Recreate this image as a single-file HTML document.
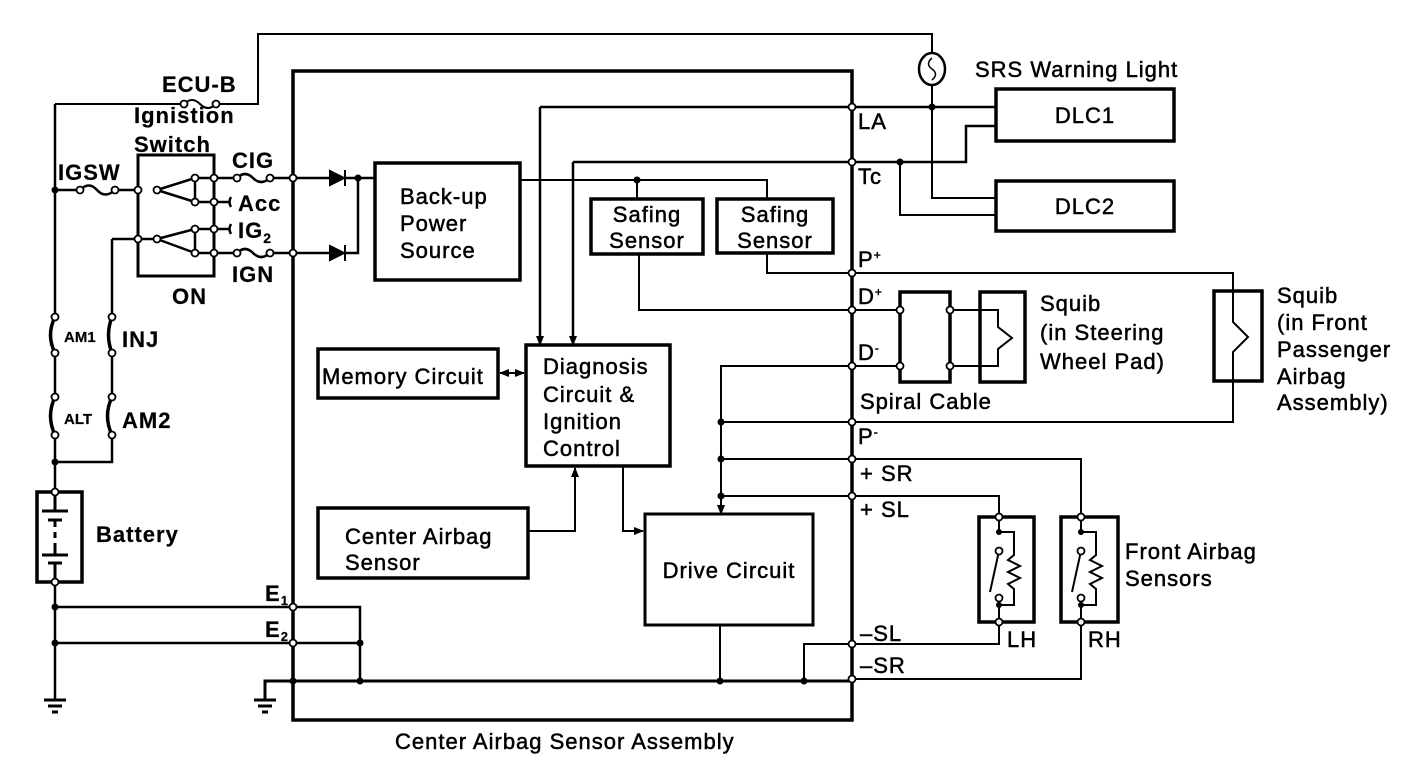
<!DOCTYPE html>
<html><head><meta charset="utf-8"><style>
html,body{margin:0;padding:0;background:#fff}
svg{display:block}
text{font-family:"Liberation Sans",sans-serif;font-size:22px;letter-spacing:1px;fill:#000;stroke:#000;stroke-width:0.5}
.b{font-weight:bold;stroke-width:0.2}
.s{font-size:15px;letter-spacing:0}
</style></head><body>
<svg width="1408" height="766" viewBox="0 0 1408 766" xmlns="http://www.w3.org/2000/svg">
<defs>
<marker id="ar" markerWidth="10" markerHeight="10" refX="9" refY="5" orient="auto" markerUnits="userSpaceOnUse"><path d="M0,1 L10,5 L0,9 Z" fill="#000"/></marker>
</defs>
<g fill="none" stroke="#000" stroke-width="2">
<path d="M293,71 H852 V720 H293 Z" stroke-width="3.5"/>
<path d="M55,104 H184 M216,104 H258 V34 H932 V53"/>
<path d="M184,104 q8,-8 16,0 t16,0"/>
<ellipse cx="932" cy="69" rx="13" ry="16" stroke-width="2.5"/>
<path d="M932,58 q-7,6 0,11 q7,5 0,11" stroke-width="1.5"/>
<path d="M932,85 V198 H996"/>
<path d="M55,104 V317 M55,353 V397 M55,435 V492 M55,582 V700" stroke-width="2.5"/>
<path d="M55,317 q-9,18 0,36 M55,397 q-9,19 0,38" stroke-width="3.5"/>
<path d="M55,190 H80 M115,190 H138" stroke-width="2.5"/>
<path d="M80,190 q9,-9 17,0 t18,0" stroke-width="2.5"/>
<path d="M138,155 H214 V276 H138 Z" stroke-width="3"/>
<path d="M157,190 L195,178 M157,190 L195,202 M195,178 V202 M195,178 H214 M195,202 H214" stroke-width="2.5"/>
<path d="M112,239 H157 M157,239 L195,229 M157,239 L195,253 M195,229 V253 M195,229 H214 M195,253 H214" stroke-width="2.5"/>
<path d="M214,178 H237 M270,178 H330 M237,178 q8,-8 16,0 t17,0" stroke-width="2.5"/>
<path d="M214,253 H237 M270,253 H330 M237,253 q8,-8 16,0 t17,0" stroke-width="2.5"/>
<path d="M214,202 H230 M231,197 q-3,5 0,10 M214,229 H230 M231,224 q-3,5 0,10" stroke-width="2.5"/>
<path d="M345,178 H375 M345,253 H358 V178" stroke-width="2.5"/>
<path d="M112,239 V317 M112,353 V397 M112,435 V462 H55" stroke-width="2.5"/>
<path d="M112,317 q-7,18 0,36 M112,397 q-9,19 0,38" stroke-width="3.5"/>
<rect x="37" y="492" width="45" height="90" stroke-width="3.5"/>
<path d="M55,492 V511 M42,511 H68 M48,520 H62 M55,520 V527 M55,532 V538 M55,543 V555 M42,555 H68 M48,563 H62 M55,563 V582" stroke-width="3"/>
<path d="M44,700 H66 M48,706 H62 M52,712 H58" stroke-width="3"/>
<path d="M55,607 H360 V681 M55,643 H360" stroke-width="2.5"/>
<path d="M265,700 V681 H852" stroke-width="3"/>
<path d="M254,700 H276 M258,706 H272 M262,712 H268" stroke-width="3"/>
<rect x="375" y="163" width="145" height="117" stroke-width="3.5"/>
<path d="M520,180 H767 V199 M637,180 V199"/>
<rect x="591" y="199" width="112" height="55" stroke-width="3.5"/>
<rect x="717" y="199" width="116" height="54" stroke-width="3.5"/>
<path d="M639,254 V310 H900 M767,253 V273 H1233 V291"/>
<path d="M540,107 H996 M540,107 V345" marker-end="url(#ar)" stroke-width="2.5"/>
<path d="M573,162 H966 V126 H996 M573,162 V345" marker-end="url(#ar)" stroke-width="2.5"/>
<path d="M900,162 V215 H996"/>
<rect x="996" y="89" width="178" height="52" stroke-width="3.5"/>
<rect x="996" y="181" width="178" height="50" stroke-width="3.5"/>
<rect x="900" y="292" width="50" height="90" stroke-width="3.5"/>
<rect x="980" y="292" width="45" height="90" stroke-width="3.5"/>
<path d="M950,310 H998 V327 L1012,338 L998,349 V366 H950 M852,366 H900"/>
<rect x="1214" y="291" width="48" height="90" stroke-width="3.5"/>
<path d="M1233,273 V322 L1248,337 L1233,352 V422 H721"/>
<path d="M852,366 H721 V514" marker-end="url(#ar)"/>
<path d="M721,459 H1081 V517 M721,496 H999 V517"/>
<rect x="979" y="517" width="55" height="105" stroke-width="3.5"/>
<rect x="1061" y="517" width="57" height="105" stroke-width="3.5"/>
<path d="M999,517 V532 M999,551 L990,592 M999,598 V622 M999,532 H1014 V555 l-6,5 l12,6 l-12,6 l12,6 l-12,6 l6,5 V605 H999 V622"/>
<path d="M1081,517 V532 M1081,551 L1072,592 M1081,598 V622 M1081,532 H1096 V555 l-6,5 l12,6 l-12,6 l12,6 l-12,6 l6,5 V605 H1081 V622"/>
<path d="M999,622 V644 H804 V681 M1081,622 V679 H852"/>
<rect x="318" y="349" width="180" height="49" stroke-width="3.5"/>
<rect x="526" y="345" width="144" height="121" stroke-width="3.5"/>
<path d="M500,373 H524" marker-end="url(#ar)"/>
<path d="M524,373 H500" marker-end="url(#ar)"/>
<rect x="318" y="508" width="210" height="70" stroke-width="3.5"/>
<path d="M528,531 H575 V468" marker-end="url(#ar)"/>
<path d="M623,466 V531 H643" marker-end="url(#ar)"/>
<rect x="645" y="514" width="168" height="111" stroke-width="3"/>
<path d="M720,625 V681"/>
</g>
<g fill="#000" stroke="#000" stroke-width="2">
<path d="M330,171 L344,178 L330,185 Z M345,170 V186"/>
<path d="M330,246 L344,253 L330,260 Z M345,245 V261"/>
</g>
<g fill="#000">
<circle cx="55" cy="190" r="3.5"/><circle cx="55" cy="462" r="3.5"/><circle cx="55" cy="607" r="3.5"/><circle cx="55" cy="643" r="3.5"/>
<circle cx="358" cy="178" r="3.5"/><circle cx="637" cy="180" r="3.5"/><circle cx="932" cy="107" r="3.5"/><circle cx="900" cy="162" r="3.5"/>
<circle cx="721" cy="422" r="3.5"/><circle cx="721" cy="459" r="3.5"/><circle cx="721" cy="496" r="3.5"/>
<circle cx="293" cy="681" r="3.5"/><circle cx="360" cy="681" r="3.5"/><circle cx="360" cy="643" r="3.5"/><circle cx="720" cy="681" r="3.5"/><circle cx="804" cy="681" r="3.5"/>
<circle cx="999" cy="532" r="3"/><circle cx="999" cy="605" r="3"/><circle cx="1081" cy="532" r="3"/><circle cx="1081" cy="605" r="3"/>
</g>
<g fill="#fff" stroke="#000" stroke-width="1.8">
<circle cx="184" cy="104" r="3.5"/><circle cx="216" cy="104" r="3.5"/>
<circle cx="80" cy="190" r="3.5"/><circle cx="115" cy="190" r="3.5"/>
<circle cx="138" cy="190" r="3.5"/><circle cx="157" cy="190" r="3.5"/><circle cx="138" cy="239" r="3.5"/><circle cx="157" cy="239" r="3.5"/>
<circle cx="195" cy="178" r="3.5"/><circle cx="195" cy="202" r="3.5"/><circle cx="195" cy="229" r="3.5"/><circle cx="195" cy="253" r="3.5"/>
<circle cx="214" cy="178" r="3.5"/><circle cx="214" cy="202" r="3.5"/><circle cx="214" cy="229" r="3.5"/><circle cx="214" cy="253" r="3.5"/>
<circle cx="237" cy="178" r="3.5"/><circle cx="270" cy="178" r="3.5"/><circle cx="237" cy="253" r="3.5"/><circle cx="270" cy="253" r="3.5"/>
<circle cx="293" cy="178" r="3.5"/><circle cx="293" cy="253" r="3.5"/>
<circle cx="55" cy="317" r="3.5"/><circle cx="55" cy="353" r="3.5"/><circle cx="55" cy="397" r="3.5"/><circle cx="55" cy="435" r="3.5"/>
<circle cx="112" cy="317" r="3.5"/><circle cx="112" cy="353" r="3.5"/><circle cx="112" cy="397" r="3.5"/><circle cx="112" cy="435" r="3.5"/>
<circle cx="55" cy="492" r="3.5"/><circle cx="55" cy="582" r="3.5"/>
<circle cx="293" cy="607" r="3.5"/><circle cx="293" cy="643" r="3.5"/>
<circle cx="852" cy="107" r="3.5"/><circle cx="852" cy="162" r="3.5"/><circle cx="852" cy="273" r="3.5"/><circle cx="852" cy="310" r="3.5"/><circle cx="852" cy="366" r="3.5"/><circle cx="852" cy="422" r="3.5"/><circle cx="852" cy="459" r="3.5"/><circle cx="852" cy="496" r="3.5"/><circle cx="852" cy="644" r="3.5"/><circle cx="852" cy="679" r="3.5"/>
<circle cx="900" cy="310" r="3.5"/><circle cx="900" cy="366" r="3.5"/><circle cx="950" cy="310" r="3.5"/><circle cx="950" cy="366" r="3.5"/>
<circle cx="999" cy="517" r="3.5"/><circle cx="999" cy="622" r="3.5"/><circle cx="1081" cy="517" r="3.5"/><circle cx="1081" cy="622" r="3.5"/>
<circle cx="999" cy="551" r="3.5"/><circle cx="999" cy="598" r="3.5"/><circle cx="1081" cy="551" r="3.5"/><circle cx="1081" cy="598" r="3.5"/>
</g>
<text x="162" y="92" class="b">ECU-B</text>
<text x="134" y="123" class="b">Ignistion</text>
<text x="134" y="152" class="b">Switch</text>
<text x="58" y="180" class="b">IGSW</text>
<text x="232" y="168" class="b">CIG</text>
<text x="238" y="211" class="b">Acc</text>
<text x="238" y="238" class="b">IG<tspan font-size="14" dy="5">2</tspan></text>
<text x="232" y="282" class="b">IGN</text>
<text x="172" y="304" class="b">ON</text>
<text x="64" y="342" class="s b">AM1</text>
<text x="122" y="347" class="b">INJ</text>
<text x="64" y="424" class="s b">ALT</text>
<text x="122" y="428" class="b">AM2</text>
<text x="96" y="542" class="b">Battery</text>
<text x="265" y="601" class="b">E<tspan font-size="13" dy="4">1</tspan></text>
<text x="265" y="637" class="b">E<tspan font-size="13" dy="4">2</tspan></text>
<text x="400" y="204">Back-up</text>
<text x="400" y="231">Power</text>
<text x="400" y="258">Source</text>
<text x="647" y="222" text-anchor="middle">Safing</text>
<text x="647" y="248" text-anchor="middle">Sensor</text>
<text x="775" y="222" text-anchor="middle">Safing</text>
<text x="775" y="248" text-anchor="middle">Sensor</text>
<text x="975" y="77">SRS Warning Light</text>
<text x="1085" y="123" text-anchor="middle">DLC1</text>
<text x="1085" y="214" text-anchor="middle">DLC2</text>
<text x="858" y="129">LA</text>
<text x="858" y="184">Tc</text>
<text x="858" y="267">P<tspan font-size="12" dy="-8">+</tspan></text>
<text x="858" y="304">D<tspan font-size="12" dy="-8">+</tspan></text>
<text x="858" y="360">D<tspan font-size="12" dy="-8">-</tspan></text>
<text x="860" y="409">Spiral Cable</text>
<text x="858" y="444">P<tspan font-size="12" dy="-8">-</tspan></text>
<text x="860" y="481">+ SR</text>
<text x="860" y="517">+ SL</text>
<text x="860" y="641">–SL</text>
<text x="860" y="673">–SR</text>
<text x="1040" y="311">Squib</text>
<text x="1040" y="340">(in Steering</text>
<text x="1040" y="369">Wheel Pad)</text>
<text x="1277" y="303">Squib</text>
<text x="1277" y="330">(in Front</text>
<text x="1277" y="357">Passenger</text>
<text x="1277" y="384">Airbag</text>
<text x="1277" y="410">Assembly)</text>
<text x="322" y="384">Memory Circuit</text>
<text x="543" y="374">Diagnosis</text>
<text x="543" y="402">Circuit &amp;</text>
<text x="543" y="429">Ignition</text>
<text x="543" y="456">Control</text>
<text x="345" y="544">Center Airbag</text>
<text x="345" y="570">Sensor</text>
<text x="729" y="578" text-anchor="middle">Drive Circuit</text>
<text x="1125" y="559">Front Airbag</text>
<text x="1125" y="586">Sensors</text>
<text x="1007" y="647">LH</text>
<text x="1088" y="647">RH</text>
<text x="395" y="749">Center Airbag Sensor Assembly</text>
</svg>
</body></html>
